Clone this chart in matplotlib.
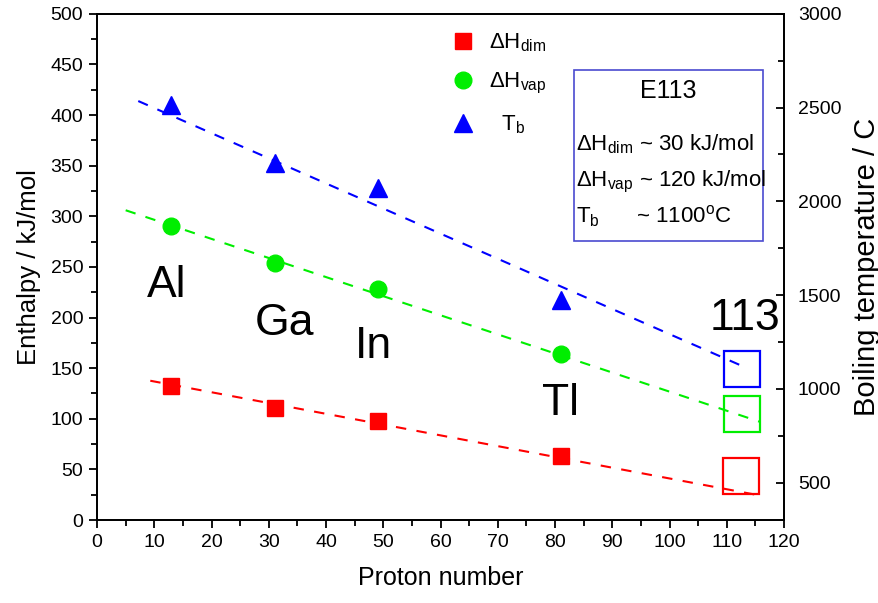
import matplotlib
matplotlib.use("Agg")
import matplotlib.pyplot as plt
from matplotlib.ticker import MultipleLocator
from matplotlib.patches import Rectangle

plt.rcParams['font.family'] = ['Liberation Sans', 'DejaVu Sans']
plt.rcParams['mathtext.fontset'] = 'custom'
plt.rcParams['mathtext.rm'] = 'Liberation Sans'
plt.rcParams['mathtext.it'] = 'Liberation Sans:italic'
plt.rcParams['mathtext.bf'] = 'Liberation Sans:bold'

# ---- data ----
elements = ['Al', 'Ga', 'In', 'Tl']
proton = [13, 31, 49, 81]
dH_dim = [132, 111, 98, 63]
dH_vap = [290, 254, 228, 164]
T_b = [2512, 2205, 2069, 1475]

# guide (trend) lines: endpoints
dim_line_x = [9.3, 116.2]
dim_line_y = [137.6, 23.8]
vap_line_x = [5.0, 115.8]
vap_line_y = [306, 97]
tb_line_x = [7.2, 113.7]
tb_line_y = [2535, 1108]

# predicted element 113 (boxes)
e113_x_dim = 112.4
e113_dim = 43
e113_x_vap = 112.7
e113_vap = 105
e113_x_tb = 112.7
e113_tb = 1108

# label positions for element names
label_x = [12.2, 32.7, 48.2, 80.9]
label_y = [220, 183, 160, 104]
label_113 = (113.2, 188)

fig = plt.figure(figsize=(8.79, 6.03), dpi=100)
ax = fig.add_axes([0.1104, 0.1376, 0.7816, 0.8394])
ax2 = ax.twinx()

red = '#ff0000'
green = '#00ee00'
blue = '#0000ff'

dash = (0, (5, 5))
ax.plot(dim_line_x, dim_line_y, color=red, lw=1.5, linestyle=dash)
ax.plot(vap_line_x, vap_line_y, color=green, lw=1.5, linestyle=dash)
ax2.plot(tb_line_x, tb_line_y, color=blue, lw=1.5, linestyle=dash)

l1, = ax.plot(proton, dH_dim, 's', color=red, ms=11, linestyle='none')
l2, = ax.plot(proton, dH_vap, 'o', color=green, ms=12, linestyle='none')
l3, = ax2.plot(proton, T_b, '^', color=blue, ms=13, linestyle='none')

ax.plot([e113_x_dim], [e113_dim], 's', mfc='none', mec=red, mew=1.6, ms=26.5)
ax.plot([e113_x_vap], [e113_vap], 's', mfc='none', mec=green, mew=1.6, ms=26.5)
ax2.plot([e113_x_tb], [e113_tb], 's', mfc='none', mec=blue, mew=1.6, ms=26.5)

ax.set_xlim(0, 120)
ax.set_ylim(0, 500)
ax2.set_ylim(300, 3000)

ax.xaxis.set_major_locator(MultipleLocator(10))
ax.xaxis.set_minor_locator(MultipleLocator(5))
ax.yaxis.set_major_locator(MultipleLocator(50))
ax.yaxis.set_minor_locator(MultipleLocator(25))
ax2.yaxis.set_major_locator(MultipleLocator(500))
ax2.yaxis.set_minor_locator(MultipleLocator(250))

ax.tick_params(axis='both', which='major', direction='out', length=6, width=1.3, labelsize=14, pad=4)
ax.tick_params(axis='both', which='minor', direction='out', length=4, width=1.3)
ax.tick_params(axis='x', top=False, which='both')
ax2.tick_params(axis='y', which='major', direction='in', length=6, width=1.3, labelsize=14, pad=10)
ax2.tick_params(axis='y', which='minor', direction='in', length=4, width=1.3)

for a in (ax, ax2):
    for s in a.spines.values():
        s.set_linewidth(1.3)

ax.set_xlabel('Proton number', fontsize=18, labelpad=11)
ax.set_ylabel('Enthalpy / kJ/mol', fontsize=18.5, labelpad=7)
ax2.set_ylabel('Boiling temperature / C', fontsize=21, labelpad=8)

for name, x, y in zip(elements, label_x, label_y):
    ax.text(x, y, name, fontsize=32, ha='center', va='baseline')
ax.text(label_113[0], label_113[1], '113', fontsize=32, ha='center', va='baseline')

# legend
leg = ax.legend([l1, l2, l3],
                ['ΔH$_{\\rm dim}$', 'ΔH$_{\\rm vap}$', '  T$_{\\rm b}$'],
                loc='upper left', bbox_to_anchor=(0.50, 0.983), frameon=False,
                fontsize=16, handletextpad=0.6, labelspacing=0.78,
                handlelength=1.2, borderaxespad=0.0)

# E113 info box
box = Rectangle((574 / 879, 1 - 241 / 603), (763 - 574) / 879, (241 - 70) / 603,
                transform=fig.transFigure, fill=False, edgecolor='#4a4ad0', lw=1.2)
fig.add_artist(box)
fig.text(668 / 879, 1 - 91 / 603, 'E113', fontsize=18, ha='center', va='center')
fig.text(576 / 879, 1 - 150 / 603, 'ΔH$_{\\rm dim}$ ~ 30 kJ/mol', fontsize=16, ha='left', va='baseline')
fig.text(576 / 879, 1 - 186 / 603, 'ΔH$_{\\rm vap}$ ~ 120 kJ/mol', fontsize=16, ha='left', va='baseline')
fig.text(576 / 879, 1 - 223 / 603, 'T$_{\\rm b}$      ~ 1100$^{\\rm o}$C', fontsize=16, ha='left', va='baseline')

fig.savefig('out.png', dpi=100)
